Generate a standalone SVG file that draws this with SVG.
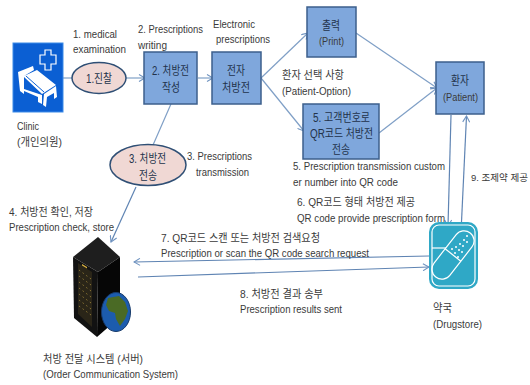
<svg xmlns="http://www.w3.org/2000/svg" width="530" height="385" viewBox="0 0 530 385">
<style>
text{font-family:"Liberation Sans","Noto Sans CJK KR",sans-serif;font-size:11px;fill:#3a3a3a}
.n{font-size:12px;fill:#22324a}
.box{fill:#7fa7dc;stroke:#3c5f8c;stroke-width:1.5}
.oval{fill:#f0d8d4;stroke:#2f4f75;stroke-width:1.5}
.l{fill:none;stroke:#7f9fc6;stroke-width:1.2}
.d{fill:none;stroke:#5f84b3;stroke-width:1.2}
.w{fill:none;stroke:#fff;stroke-width:1.2}
</style>
<defs>
<marker id="a" markerWidth="8" markerHeight="8" refX="7" refY="4" orient="auto" markerUnits="userSpaceOnUse"><path d="M1 .5L7 4L1 7.500" fill="none" stroke="#6f93c0" stroke-width="1.1"/></marker>
</defs>
<g id="connectors">
<path class="l" d="M63 78H73"/>
<path class="l" marker-end="url(#a)" d="M126 78H145"/>
<path class="l" marker-end="url(#a)" d="M198 78H213"/>
<path class="l" d="M171 104L153 145"/>
<path class="d" marker-end="url(#a)" d="M136 187L111 242"/>
<path class="l" marker-end="url(#a)" d="M261 78L308 33"/>
<path class="l" marker-end="url(#a)" d="M261 78L304 131"/>
<path class="l" marker-end="url(#a)" d="M356 33L437 88"/>
<path class="l" marker-end="url(#a)" d="M379 133L437 88"/>
<path class="d" marker-end="url(#a)" d="M451 115L448 226"/>
<path class="d" marker-end="url(#a)" d="M461.500 222L466.500 116"/>
<path class="d" marker-end="url(#a)" d="M429 256L134 262"/>
<path class="d" marker-end="url(#a)" d="M138 277L429 267"/>
</g>
<g id="clinic">
<rect x="13" y="43" width="50" height="69" fill="#0b5fd3" stroke="#3d8be8"/>
<path class="w" d="M45 50h6v5h5v9h-5v6h-6v-6h-5v-9h5z"/>
<path fill="#fff" d="M18 72L33 66l1 4-10 6 13-6 19 15-14 9-18-17v12l18 6v9l-4-2v-5l-14-6v3l-4-3z"/>
<path fill="#fff" d="M44 94l12-8 1 11-3 2v-6l-7 4-1 10-3-2z"/>
<path fill="none" stroke="#0b5fd3" d="M26 76l18 16"/>
<text x="17" y="130" textLength="22" lengthAdjust="spacingAndGlyphs">Clinic</text>
<text x="17" y="146" textLength="45" lengthAdjust="spacingAndGlyphs">(개인의원)</text>
</g>
<g id="step1">
<ellipse class="oval" cx="99" cy="78" rx="27" ry="15.500"/>
<text class="n" x="86" y="83" textLength="26" lengthAdjust="spacingAndGlyphs">1.진찰</text>
<text x="73" y="38" textLength="44" lengthAdjust="spacingAndGlyphs">1. medical</text>
<text x="73" y="53" textLength="53" lengthAdjust="spacingAndGlyphs">examination</text>
</g>
<g id="step2">
<rect class="box" x="144" y="52" width="53" height="52"/>
<text class="n" x="152" y="75" textLength="37" lengthAdjust="spacingAndGlyphs">2. 처방전</text>
<text class="n" x="162" y="92" textLength="18" lengthAdjust="spacingAndGlyphs">작성</text>
<text x="138" y="33" textLength="65" lengthAdjust="spacingAndGlyphs">2. Prescriptions</text>
<text x="138" y="49" textLength="29" lengthAdjust="spacingAndGlyphs">writing</text>
</g>
<g id="eprescription">
<rect class="box" x="212" y="52" width="49" height="52"/>
<text class="n" x="227" y="75" textLength="18" lengthAdjust="spacingAndGlyphs">전자</text>
<text class="n" x="222" y="92" textLength="28" lengthAdjust="spacingAndGlyphs">처방전</text>
<text x="213" y="28" textLength="42" lengthAdjust="spacingAndGlyphs">Electronic</text>
<text x="216" y="43" textLength="54" lengthAdjust="spacingAndGlyphs">prescriptions</text>
</g>
<g id="step3">
<ellipse class="oval" cx="148" cy="165" rx="38" ry="20.500"/>
<text class="n" x="129" y="163" textLength="37" lengthAdjust="spacingAndGlyphs">3. 처방전</text>
<text class="n" x="139" y="180" textLength="18" lengthAdjust="spacingAndGlyphs">전송</text>
<text x="187" y="160" textLength="65" lengthAdjust="spacingAndGlyphs">3. Prescriptions</text>
<text x="196" y="176" textLength="53" lengthAdjust="spacingAndGlyphs">transmission</text>
</g>
<g id="print">
<rect class="box" x="307" y="7" width="49" height="50"/>
<text class="n" x="322" y="30" textLength="18" lengthAdjust="spacingAndGlyphs">출력</text>
<text x="319" y="45" textLength="25" lengthAdjust="spacingAndGlyphs">(Print)</text>
</g>
<g id="option">
<text x="282" y="79" textLength="62" lengthAdjust="spacingAndGlyphs">환자 선택 사항</text>
<text x="282" y="95" textLength="69" lengthAdjust="spacingAndGlyphs">(Patient-Option)</text>
</g>
<g id="step5">
<rect class="box" x="303" y="104" width="76" height="55"/>
<text class="n" x="313" y="122" textLength="57" lengthAdjust="spacingAndGlyphs">5. 고객번호로</text>
<text class="n" x="310" y="138" textLength="63" lengthAdjust="spacingAndGlyphs">QR코드 처방전</text>
<text class="n" x="332" y="154" textLength="18" lengthAdjust="spacingAndGlyphs">전송</text>
<text x="293" y="170" textLength="152" lengthAdjust="spacingAndGlyphs">5. Prescription transmission custom</text>
<text x="293" y="186" textLength="105" lengthAdjust="spacingAndGlyphs">er number into QR code</text>
</g>
<g id="patient">
<rect class="box" x="436" y="62" width="48" height="52"/>
<text class="n" x="451" y="85" textLength="18" lengthAdjust="spacingAndGlyphs">환자</text>
<text x="443" y="101" textLength="35" lengthAdjust="spacingAndGlyphs">(Patient)</text>
<text x="471" y="181" style="font-size:9.500px">9. 조제약 제공</text>
</g>
<g id="step6">
<text x="297" y="206" textLength="118" lengthAdjust="spacingAndGlyphs">6. QR코드 형태 처방전 제공</text>
<text x="297" y="222" textLength="148" lengthAdjust="spacingAndGlyphs">QR code provide  prescription form</text>
</g>
<g id="step7">
<text x="161" y="242" textLength="159" lengthAdjust="spacingAndGlyphs">7. QR코드 스캔 또는 처방전 검색요청</text>
<text x="161" y="257" textLength="208" lengthAdjust="spacingAndGlyphs">Prescription or scan the QR code search request</text>
</g>
<g id="step8">
<text x="240" y="298" textLength="83" lengthAdjust="spacingAndGlyphs">8. 처방전 결과 송부</text>
<text x="240" y="313" textLength="102" lengthAdjust="spacingAndGlyphs">Prescription results sent</text>
</g>
<g id="step4">
<text x="9" y="216" textLength="84" lengthAdjust="spacingAndGlyphs">4. 처방전 확인, 저장</text>
<text x="9" y="231" textLength="105" lengthAdjust="spacingAndGlyphs">Prescription check, store</text>
</g>
<g id="server">
<path fill="#1e1e1e" d="M98 237L120 257L98 272L73 257z"/>
<path fill="#121212" d="M73 257L98 272L97 337L74 318z"/>
<path fill="#060606" d="M98 272L120 257V317L97 337z"/>
<path fill="#2a2518" d="M78 263L92 272V327L78 314z"/>
<path fill="none" stroke="#8a7434" stroke-dasharray="1.500 3" d="M79 270L91 279M79 276L91 285M79 282L91 291M79 288L91 297M79 294L91 303M79 300L91 309M79 306L91 315"/>
<path fill="#d8b040" d="M82 264l5 3v1.500l-5-3z"/>
<ellipse cx="116" cy="312" rx="14.500" ry="19.500" fill="#1c5cae" stroke="#173a6a"/>
<path fill="#4a6a25" d="M108 298l11-2 6 6 3 9-3 8-5 7-4-7-1-6-6-2-3-6z"/>
<text x="43" y="363" textLength="100" lengthAdjust="spacingAndGlyphs">처방 전달 시스템 (서버)</text>
<text x="43" y="378" textLength="135" lengthAdjust="spacingAndGlyphs">(Order Communication System)</text>
</g>
<g id="drugstore">
<rect x="429" y="222" width="49" height="67" rx="10" fill="#2fa8c6"/>
<rect x="432" y="225" width="43" height="61" rx="7" class="w"/>
<g transform="rotate(38 453 255)">
<rect x="443" y="227" width="20" height="56" rx="10" class="w"/>
<path class="w" d="M443 255H463"/>
</g>
<path class="w" d="M432 248H446"/>
<g fill="#fff"><circle cx="452" cy="249" r="1"/><circle cx="456" cy="247" r="1"/><circle cx="460" cy="244" r="1"/><circle cx="464" cy="240" r="1"/><circle cx="467" cy="236" r="1"/><circle cx="455" cy="253" r="1"/><circle cx="459" cy="250" r="1"/><circle cx="463" cy="246" r="1"/><circle cx="467" cy="242" r="1"/><circle cx="458" cy="257" r="1"/><circle cx="462" cy="252" r="1"/></g>
<text x="433" y="312" textLength="19" lengthAdjust="spacingAndGlyphs">약국</text>
<text x="433" y="328" textLength="49" lengthAdjust="spacingAndGlyphs">(Drugstore)</text>
</g>
</svg>
